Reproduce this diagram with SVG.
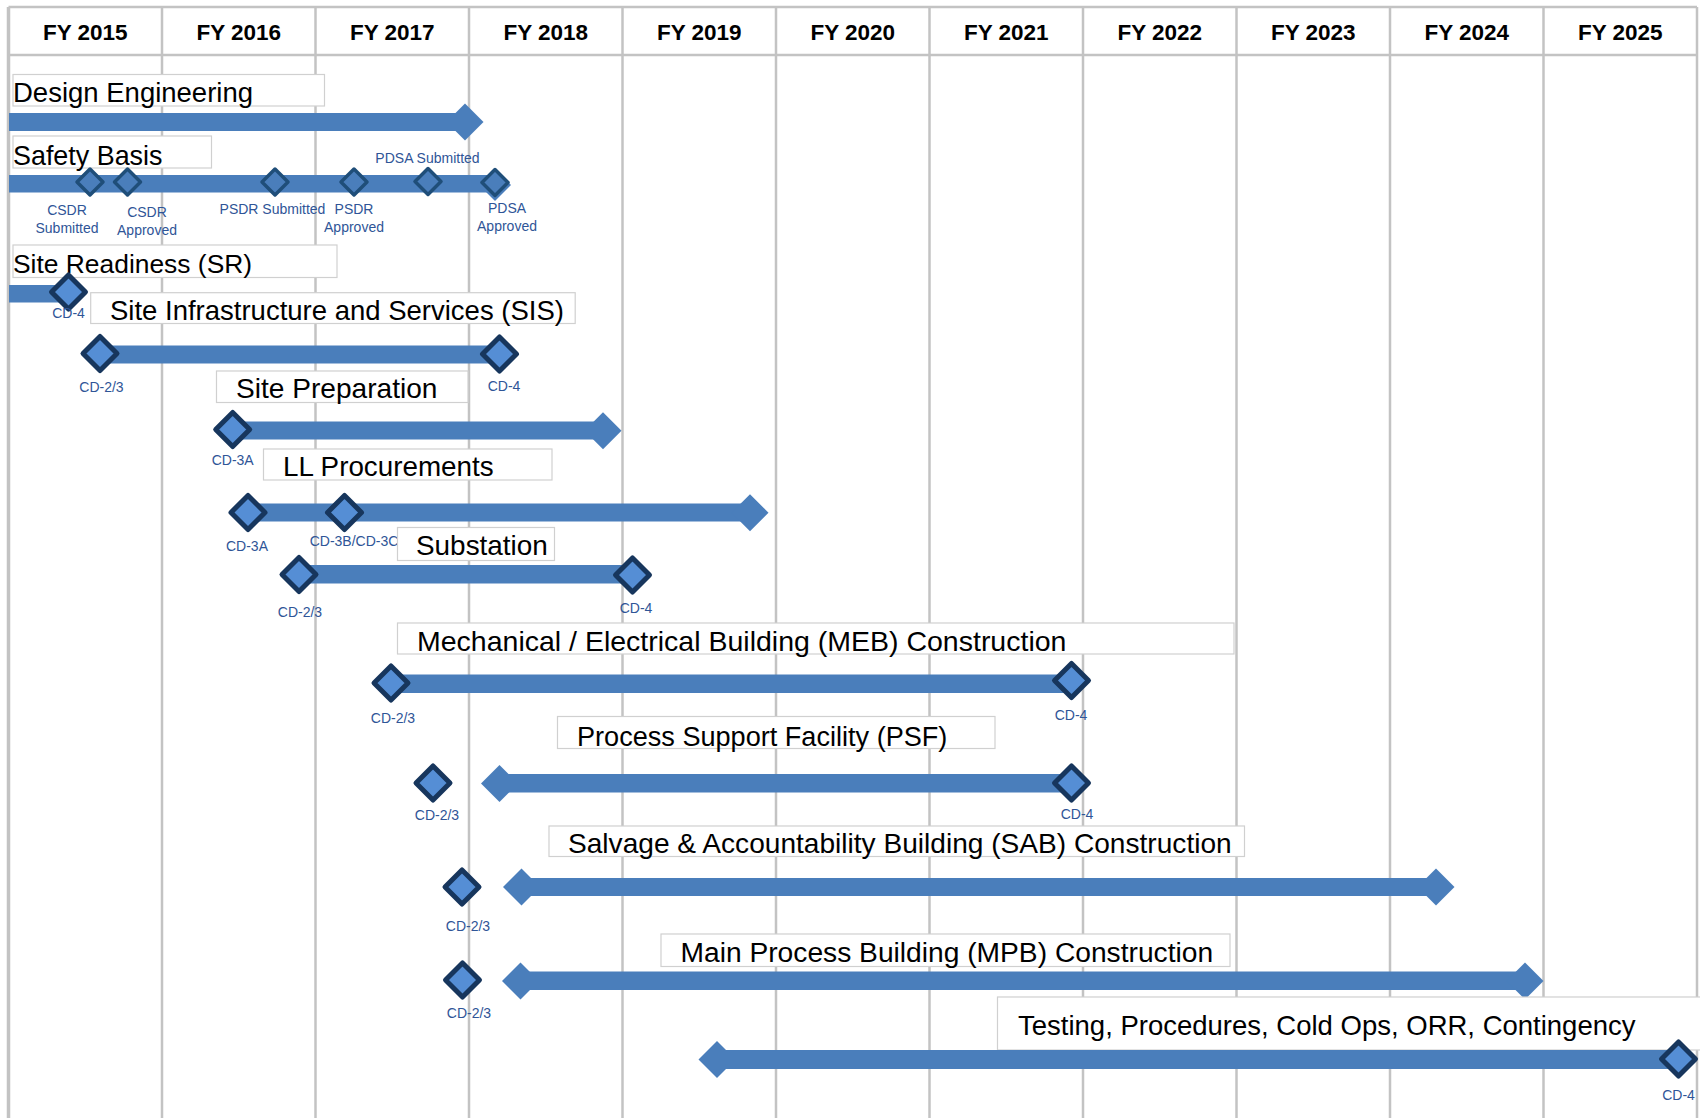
<svg xmlns="http://www.w3.org/2000/svg" xmlns:xlink="http://www.w3.org/1999/xlink" width="1700" height="1118" viewBox="0 0 1700 1118">
<style>
.grid{stroke:#c3c3c3;stroke-width:2.5;fill:none}
.box{fill:#fff;stroke:#d0d0d0;stroke-width:1.2}
.lbl{font-family:"Liberation Sans",Arial,sans-serif;font-size:27.5px;fill:#000}
.hdr{font-family:"Liberation Sans",Arial,sans-serif;font-size:22.5px;font-weight:bold;fill:#000;text-anchor:middle}
.bar{fill:#4a7ebb}
.ms{fill:#558ed5;stroke:#17365d;stroke-width:5;stroke-linejoin:round}
.mss{fill:#4a7ebb;stroke:#1f4e79;stroke-width:3.5;stroke-linejoin:round}
.cd{font-family:"Liberation Sans",Arial,sans-serif;font-size:14px;fill:#2f5597;text-anchor:middle}
</style>
<defs>
<polygon id="dm" points="0,-17 17,0 0,17 -17,0"/>
<polygon id="dms" points="0,-13 13,0 0,13 -13,0"/>
<polygon id="ah" points="0,-18.5 18.5,0 0,18.5 -18.5,0"/>
<polygon id="ahs" points="0,-16 16,0 0,16 -16,0"/>
</defs>
<rect width="1700" height="1118" fill="#fff"/>
<g id="grid">
<line class="grid" x1="8.5" y1="7" x2="1697" y2="7"/>
<line class="grid" x1="8.5" y1="55" x2="1697" y2="55"/>
<line class="grid" x1="8.5" y1="7" x2="8.5" y2="1118" style="stroke-width:3.5"/>
<line class="grid" x1="162" y1="7" x2="162" y2="1118"/>
<line class="grid" x1="315.5" y1="7" x2="315.5" y2="1118"/>
<line class="grid" x1="469" y1="7" x2="469" y2="1118"/>
<line class="grid" x1="622.5" y1="7" x2="622.5" y2="1118"/>
<line class="grid" x1="776" y1="7" x2="776" y2="1118"/>
<line class="grid" x1="929.5" y1="7" x2="929.5" y2="1118"/>
<line class="grid" x1="1083" y1="7" x2="1083" y2="1118"/>
<line class="grid" x1="1236.5" y1="7" x2="1236.5" y2="1118"/>
<line class="grid" x1="1390" y1="7" x2="1390" y2="1118"/>
<line class="grid" x1="1543.5" y1="7" x2="1543.5" y2="1118"/>
<line class="grid" x1="1697" y1="7" x2="1697" y2="1118"/>
</g>
<g id="header">
<text class="hdr" x="85.25" y="40">FY 2015</text>
<text class="hdr" x="238.75" y="40">FY 2016</text>
<text class="hdr" x="392.25" y="40">FY 2017</text>
<text class="hdr" x="545.75" y="40">FY 2018</text>
<text class="hdr" x="699.25" y="40">FY 2019</text>
<text class="hdr" x="852.75" y="40">FY 2020</text>
<text class="hdr" x="1006.25" y="40">FY 2021</text>
<text class="hdr" x="1159.75" y="40">FY 2022</text>
<text class="hdr" x="1313.25" y="40">FY 2023</text>
<text class="hdr" x="1466.75" y="40">FY 2024</text>
<text class="hdr" x="1620.25" y="40">FY 2025</text>
</g>
<g id="connectors"></g>
<g id="design-engineering">
<rect class="box" x="13" y="74.5" width="311.5" height="31.5"/>
<text class="lbl" x="13" y="101.5">Design Engineering</text>
<rect class="bar" x="9" y="113" width="456" height="18"/>
<use href="#ah" class="bar" x="465" y="122"/>
</g>
<g id="safety-basis">
<rect class="box" x="13" y="136" width="198.5" height="32"/>
<text class="lbl" x="13" y="165" style="font-size:26.9px">Safety Basis</text>
<rect class="bar" x="9" y="175" width="486" height="17.5"/>
<use href="#ahs" class="bar" x="495" y="185"/>
<use href="#dms" class="mss" x="90" y="182"/>
<use href="#dms" class="mss" x="127.5" y="182"/>
<use href="#dms" class="mss" x="275" y="182"/>
<use href="#dms" class="mss" x="354" y="182"/>
<use href="#dms" class="mss" x="428" y="181.5"/>
<use href="#dms" class="mss" x="495" y="182.5"/>
<text class="cd" x="67" y="215">CSDR</text>
<text class="cd" x="67" y="233">Submitted</text>
<text class="cd" x="147" y="217">CSDR</text>
<text class="cd" x="147" y="235">Approved</text>
<text class="cd" x="272.5" y="214">PSDR Submitted</text>
<text class="cd" x="354" y="214">PSDR</text>
<text class="cd" x="354" y="232">Approved</text>
<text class="cd" x="427.5" y="163">PDSA Submitted</text>
<text class="cd" x="507" y="213">PDSA</text>
<text class="cd" x="507" y="231">Approved</text>
</g>
<g id="site-readiness">
<rect class="box" x="13" y="245" width="324" height="32.5"/>
<text class="lbl" x="13" y="273.3" style="font-size:26.4px">Site Readiness (SR)</text>
<rect class="bar" x="9" y="285" width="60" height="17.5"/>
<use href="#dm" class="ms" x="68.5" y="292"/>
<text class="cd" x="68.5" y="318">CD-4</text>
</g>
<g id="site-infrastructure">
<rect class="box" x="90.7" y="292.7" width="484.5" height="30.8"/>
<text class="lbl" x="110" y="320">Site Infrastructure and Services (SIS)</text>
<rect class="bar" x="100" y="345.5" width="399.5" height="18"/>
<use href="#dm" class="ms" x="100" y="353.5"/>
<use href="#dm" class="ms" x="499.5" y="354"/>
<text class="cd" x="101.5" y="392">CD-2/3</text>
<text class="cd" x="504" y="391">CD-4</text>
</g>
<g id="site-preparation">
<rect class="box" x="216.5" y="371" width="251.5" height="31.5"/>
<text class="lbl" x="236" y="398" style="font-size:28.1px">Site Preparation</text>
<rect class="bar" x="232" y="421.5" width="371" height="18"/>
<use href="#ah" class="bar" x="603" y="430.7"/>
<use href="#dm" class="ms" x="232.7" y="429.5"/>
<text class="cd" x="232.7" y="465">CD-3A</text>
</g>
<g id="ll-procurements">
<rect class="box" x="263.5" y="449" width="288.5" height="31"/>
<text class="lbl" x="283" y="476" style="font-size:27.8px">LL Procurements</text>
<rect class="bar" x="248" y="503.5" width="502" height="18"/>
<use href="#ah" class="bar" x="750" y="512.7"/>
<use href="#dm" class="ms" x="248" y="512.5"/>
<use href="#dm" class="ms" x="344.5" y="512.5"/>
<text class="cd" x="247" y="550.5">CD-3A</text>
<text class="cd" x="354" y="545.5">CD-3B/CD-3C</text>
</g>
<g id="substation">
<rect class="box" x="397.5" y="527.5" width="157" height="33"/>
<text class="lbl" x="416" y="555" style="font-size:27.9px">Substation</text>
<rect class="bar" x="299" y="565" width="333.5" height="18.5"/>
<use href="#dm" class="ms" x="299" y="574.5"/>
<use href="#dm" class="ms" x="632.5" y="575"/>
<text class="cd" x="300" y="617">CD-2/3</text>
<text class="cd" x="636" y="613">CD-4</text>
</g>
<g id="meb-construction">
<rect class="box" x="397.5" y="623" width="836.5" height="31"/>
<text class="lbl" x="417" y="650.5" style="font-size:28.5px">Mechanical / Electrical Building (MEB) Construction</text>
<rect class="bar" x="391" y="674.5" width="680.5" height="18.5"/>
<use href="#dm" class="ms" x="391" y="683"/>
<use href="#dm" class="ms" x="1071.5" y="680.5"/>
<text class="cd" x="393" y="723">CD-2/3</text>
<text class="cd" x="1071" y="720">CD-4</text>
</g>
<g id="psf">
<rect class="box" x="557.5" y="716.5" width="437.5" height="32"/>
<text class="lbl" x="577" y="745.5" style="font-size:27.1px">Process Support Facility (PSF)</text>
<use href="#ah" class="bar" x="499.5" y="783.5"/>
<rect class="bar" x="499.5" y="774" width="572" height="18.5"/>
<use href="#dm" class="ms" x="433" y="783"/>
<use href="#dm" class="ms" x="1071.5" y="783"/>
<text class="cd" x="437" y="819.5">CD-2/3</text>
<text class="cd" x="1077" y="818.5">CD-4</text>
</g>
<g id="sab-construction">
<rect class="box" x="549" y="826" width="695.5" height="30.5"/>
<text class="lbl" x="568" y="853" style="font-size:28.1px">Salvage &amp; Accountability Building (SAB) Construction</text>
<use href="#ah" class="bar" x="521.5" y="887"/>
<rect class="bar" x="521.5" y="878" width="915" height="18"/>
<use href="#ah" class="bar" x="1436" y="887"/>
<use href="#dm" class="ms" x="462" y="887"/>
<text class="cd" x="468" y="930.5">CD-2/3</text>
</g>
<g id="mpb-construction">
<rect class="box" x="661" y="934" width="569" height="32.5"/>
<text class="lbl" x="680.5" y="962" style="font-size:28.2px">Main Process Building (MPB) Construction</text>
<use href="#ah" class="bar" x="520.5" y="981"/>
<rect class="bar" x="520.5" y="971.5" width="1004.5" height="18.5"/>
<use href="#ah" class="bar" x="1525" y="981"/>
<use href="#dm" class="ms" x="462.5" y="980"/>
<text class="cd" x="469" y="1017.5">CD-2/3</text>
</g>
<g id="testing">
<rect class="box" x="997.5" y="997" width="710" height="53"/>
<text class="lbl" x="1018" y="1035">Testing, Procedures, Cold Ops, ORR, Contingency</text>
<use href="#ah" class="bar" x="717" y="1059.5"/>
<rect class="bar" x="717" y="1050" width="961.5" height="19"/>
<use href="#dm" class="ms" x="1678.5" y="1059"/>
<text class="cd" x="1678.5" y="1100">CD-4</text>
</g>
</svg>
